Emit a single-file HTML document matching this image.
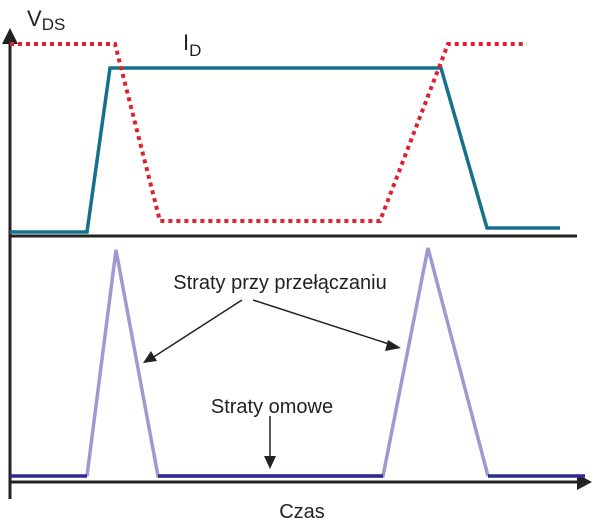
<!DOCTYPE html>
<html><head><meta charset="utf-8"><style>html,body{margin:0;padding:0;background:#fff}svg{display:block}</style></head>
<body>
<svg width="600" height="528" viewBox="0 0 600 528" xmlns="http://www.w3.org/2000/svg" font-family="Liberation Sans, Arial, sans-serif">
<line x1="10" y1="38" x2="10" y2="499" stroke="#222" stroke-width="3"/>
<polygon points="10,28 2,44 18,44" fill="#222"/>
<line x1="10" y1="236" x2="577" y2="236" stroke="#222" stroke-width="3"/>
<line x1="10" y1="482" x2="578" y2="482" stroke="#222" stroke-width="3"/>
<polygon points="592,482 577,474 577,490" fill="#222"/>
<polyline points="10,232 87,232 110,68 441,68 487,228 560,228" fill="none" stroke="#14718e" stroke-width="3.5"/>
<polyline points="10,44 115,44 160,221 380,221 448,44 527,44" fill="none" stroke="#e0202e" stroke-width="4" stroke-dasharray="4,4"/>
<polyline points="87,476 116,250 158,476 383,476 428,248 488,476" fill="none" stroke="#9d9ad2" stroke-width="3.5"/>
<line x1="10" y1="476" x2="87" y2="476" stroke="#2e2a94" stroke-width="3.5"/>
<line x1="158" y1="476" x2="383" y2="476" stroke="#2e2a94" stroke-width="3.5"/>
<line x1="488" y1="476" x2="585" y2="476" stroke="#2e2a94" stroke-width="3.5"/>
<text x="27" y="26" font-size="22" fill="#222">V<tspan font-size="17" dy="4">DS</tspan></text>
<text x="183" y="50" font-size="22" fill="#222">I<tspan font-size="17" dy="6">D</tspan></text>
<text x="280" y="289" font-size="20" fill="#222" text-anchor="middle">Straty przy przełączaniu</text>
<line x1="242" y1="300" x2="152" y2="358" stroke="#222" stroke-width="1.5"/>
<polygon points="143,363 151,351 157,361" fill="#222"/>
<line x1="253" y1="300" x2="392" y2="345" stroke="#222" stroke-width="1.5"/>
<polygon points="401,348 388,340 385,351" fill="#222"/>
<text x="272" y="413" font-size="20" fill="#222" text-anchor="middle">Straty omowe</text>
<line x1="270" y1="416" x2="270" y2="458" stroke="#222" stroke-width="1.5"/>
<polygon points="270,469 264,456 276,456" fill="#222"/>
<text x="302" y="518" font-size="20" fill="#222" text-anchor="middle">Czas</text>
</svg>
</body></html>
